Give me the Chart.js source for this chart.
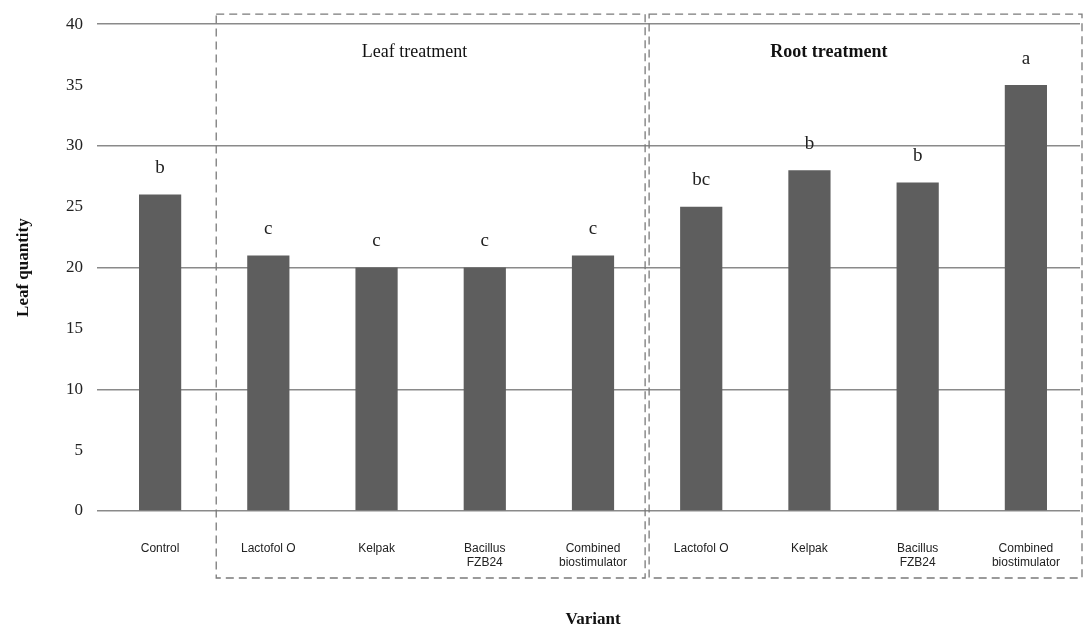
<!DOCTYPE html>
<html>
<head>
<meta charset="utf-8">
<script src="https://cdn.jsdelivr.net/npm/chart.js@4/dist/chart.umd.min.js"></script>
<style>
  html, body { margin: 0; padding: 0; background: #fff; }
  #wrap { width: 1085px; height: 632px; }
</style>
</head>
<body>
<div id="wrap"><canvas id="chart" width="1085" height="632"></canvas></div>
<script>
// data
var categories = [
  'Control', 'Lactofol O', 'Kelpak', ['Bacillus', 'FZB24'], ['Combined', 'biostimulator'],
  'Lactofol O', 'Kelpak', ['Bacillus', 'FZB24'], ['Combined', 'biostimulator']
];
var leafQuantity = [26, 21, 20, 20, 21, 25, 28, 27, 35];
var letters = ['b', 'c', 'c', 'c', 'c', 'bc', 'b', 'b', 'a'];
var yTicks = [0, 5, 10, 15, 20, 25, 30, 35, 40];
var groups = [
  { name: 'Leaf treatment', from: 0.5, to: 4.5, bold: false, textAt: 2.35 },
  { name: 'Root treatment', from: 4.5, to: 8.5, bold: true, textAt: 6.18 }
];

var serif = '"Liberation Serif", "DejaVu Serif", serif';
var sans = '"Liberation Sans", Arial, sans-serif';

// letters above bars + dashed group boxes
var extras = {
  id: 'extras',
  afterDatasetsDraw: function (chart) {
    var ctx = chart.ctx;
    var x = chart.scales.x;
    var area = chart.chartArea;
    var bars = chart.getDatasetMeta(0).data;

    ctx.save();
    ctx.fillStyle = '#222';
    ctx.font = '19px ' + serif;
    ctx.textAlign = 'center';
    ctx.textBaseline = 'bottom';
    bars.forEach(function (b, i) {
      ctx.fillText(letters[i], b.x, b.y - 17);
    });

    ctx.strokeStyle = '#7a7a7a';
    ctx.lineWidth = 1.3;
    ctx.setLineDash([8, 5]);
    groups.forEach(function (g, i) {
      var l = x.getPixelForValue(g.from) + 2;
      var r = i === groups.length - 1 ? area.right + 2 : x.getPixelForValue(g.to) - 2;
      var t = area.top - 10;
      var btm = area.bottom + 67;
      ctx.strokeRect(l, t, r - l, btm - t);
    });
    ctx.setLineDash([]);

    ctx.fillStyle = '#111';
    ctx.textBaseline = 'middle';
    groups.forEach(function (g) {
      ctx.font = (g.bold ? 'bold ' : '') + '18px ' + serif;
      ctx.fillText(g.name, x.getPixelForValue(g.textAt), area.top + 28);
    });
    ctx.restore();
  }
};

new Chart(document.getElementById('chart'), {
  type: 'bar',
  data: {
    labels: categories,
    datasets: [{
      label: 'Leaf quantity',
      data: leafQuantity,
      backgroundColor: '#5e5e5e',
      borderWidth: 0,
      categoryPercentage: 1,
      barPercentage: 0.39
    }]
  },
  options: {
    responsive: false,
    animation: false,
    layout: { padding: { top: 22, right: 5, left: 0, bottom: 0 } },
    plugins: { legend: { display: false }, tooltip: { enabled: false } },
    scales: {
      x: {
        grid: { display: false, drawTicks: false },
        border: { display: false },
        ticks: {
          color: '#222',
          font: { family: sans, size: 12 },
          padding: 30,
          maxRotation: 0,
          autoSkip: false
        },
        title: {
          display: true,
          text: 'Variant',
          color: '#111',
          font: { family: serif, size: 17, weight: 'bold' },
          padding: { top: 0, bottom: 2 }
        },
        afterFit: function (s) {
          s.height = 121;
          s.paddingLeft = 0;
          s.paddingRight = 0;
        }
      },
      y: {
        min: 0,
        max: 40,
        afterBuildTicks: function (s) {
          s.ticks = yTicks.map(function (v) { return { value: v }; });
        },
        grid: {
          color: function (c) {
            return c.tick && c.tick.value % 10 === 0 ? '#8a8a8a' : 'rgba(0,0,0,0)';
          },
          lineWidth: 1.5,
          tickLength: 9,
          drawTicks: true
        },
        border: { display: false },
        ticks: {
          color: '#222',
          font: { family: serif, size: 17 },
          padding: 14
        },
        title: {
          display: true,
          text: 'Leaf quantity',
          color: '#111',
          font: { family: serif, size: 17, weight: 'bold' },
          padding: { top: 13, bottom: 0 }
        },
        afterFit: function (s) { s.width = 106; }
      }
    }
  },
  plugins: [extras]
});
</script>
</body>
</html>
